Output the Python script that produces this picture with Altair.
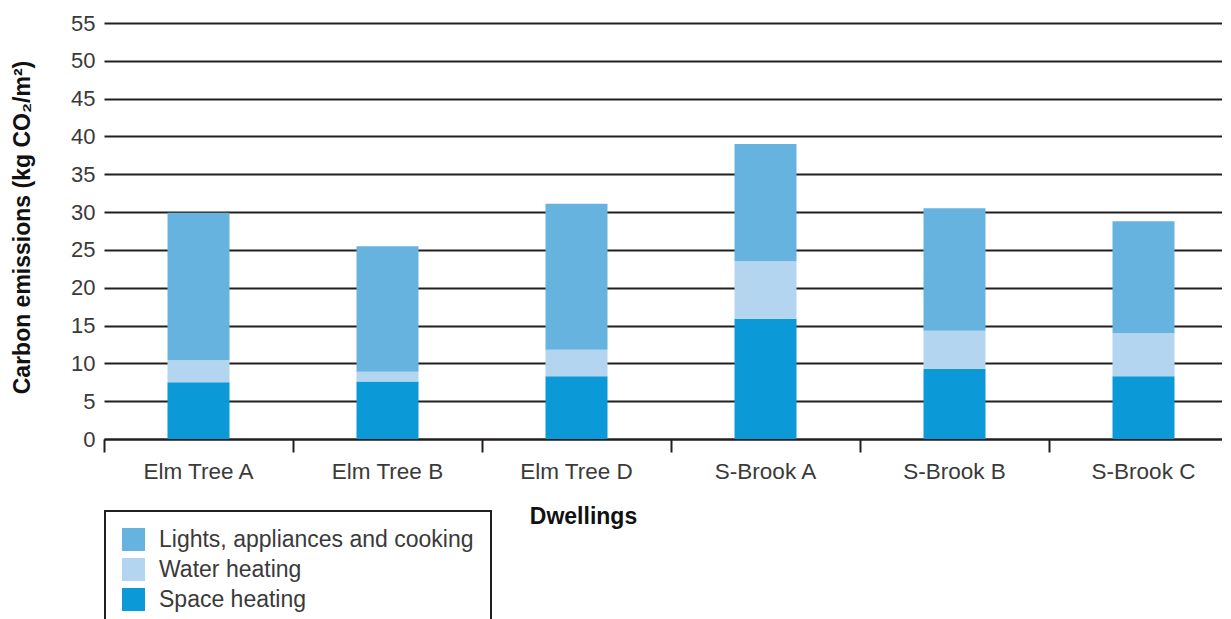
import altair as alt
import pandas as pd

dwellings = ["Elm Tree A", "Elm Tree B", "Elm Tree D", "S-Brook A", "S-Brook B", "S-Brook C"]
space_heating = [7.5, 7.6, 8.3, 15.9, 9.3, 8.3]
water_heating = [2.9, 1.3, 3.5, 7.6, 5.0, 5.7]
lights_appliances = [19.5, 16.6, 19.3, 15.5, 16.2, 14.8]

series = ["Lights, appliances and cooking", "Water heating", "Space heating"]
colors = ["#67b3e0", "#b3d5ef", "#0c99d8"]
y_ticks = list(range(0, 56, 5))

rows = []
for i, d in enumerate(dwellings):
    rows.append({"Dwelling": d, "Category": series[2], "Value": space_heating[i], "ord": 0})
    rows.append({"Dwelling": d, "Category": series[1], "Value": water_heating[i], "ord": 1})
    rows.append({"Dwelling": d, "Category": series[0], "Value": lights_appliances[i], "ord": 2})
df = pd.DataFrame(rows)

FONT = "Liberation Sans"
INK = "#231f20"
TXT = "#3a3a3a"

chart = alt.Chart(df).mark_bar(width={"band": 62 / 189}).encode(
    x=alt.X(
        "Dwelling:N",
        sort=dwellings,
        scale=alt.Scale(paddingInner=0, paddingOuter=0, range=[0, 1134]),
        axis=alt.Axis(
            title="Dwellings",
            bandPosition=0,
            labelAngle=0,
            labelFontSize=22.5,
            labelColor=TXT,
            labelFont=FONT,
            labelPadding=8,
            tickSize=13,
            tickWidth=2,
            tickColor=INK,
            domainColor=INK,
            domainWidth=2,
            titleFont=FONT,
            titleFontSize=23,
            titleFontWeight="bold",
            titleColor="#111111",
            titleAnchor="start",
            titleAlign="center",
            titleBaseline="top",
            titleX=479,
            titleY=66,
        ),
    ),
    y=alt.Y(
        "Value:Q",
        stack="zero",
        scale=alt.Scale(domain=[0, 55], nice=False),
        axis=alt.Axis(
            title="Carbon emissions (kg CO₂/m²)",
            values=y_ticks,
            grid=True,
            gridColor=INK,
            gridWidth=2,
            domain=False,
            ticks=False,
            labelFontSize=22,
            labelColor=TXT,
            labelFont=FONT,
            labelPadding=9,
            titleFont=FONT,
            titleFontSize=23,
            titleFontWeight="bold",
            titleColor="#111111",
            titleAnchor="middle",
            titleAngle=270,
            titleBaseline="middle",
            titleX=-82,
            titleY=204,
        ),
    ),
    color=alt.Color(
        "Category:N",
        scale=alt.Scale(domain=series, range=colors),
        legend=alt.Legend(
            title=None,
            orient="none",
            legendX=1,
            legendY=488,
            padding=17,
            strokeColor=INK,
            fillColor="white",
            symbolType="square",
            symbolSize=529,
            symbolStrokeWidth=0,
            symbolOpacity=1,
            labelFont=FONT,
            labelFontSize=23,
            labelColor=TXT,
            labelOffset=14,
            labelLimit=500,
            rowPadding=6,
        ),
    ),
    order=alt.Order("ord:Q"),
).properties(
    width=1118,
    height=416,
    autosize=alt.AutoSizeParams(type="none"),
    padding={"left": 96, "top": 15, "right": 0, "bottom": 180},
).configure_view(strokeWidth=0).configure_legend(strokeWidth=2)

chart.save("out.html", embed_options={"renderer": "svg", "actions": False})
